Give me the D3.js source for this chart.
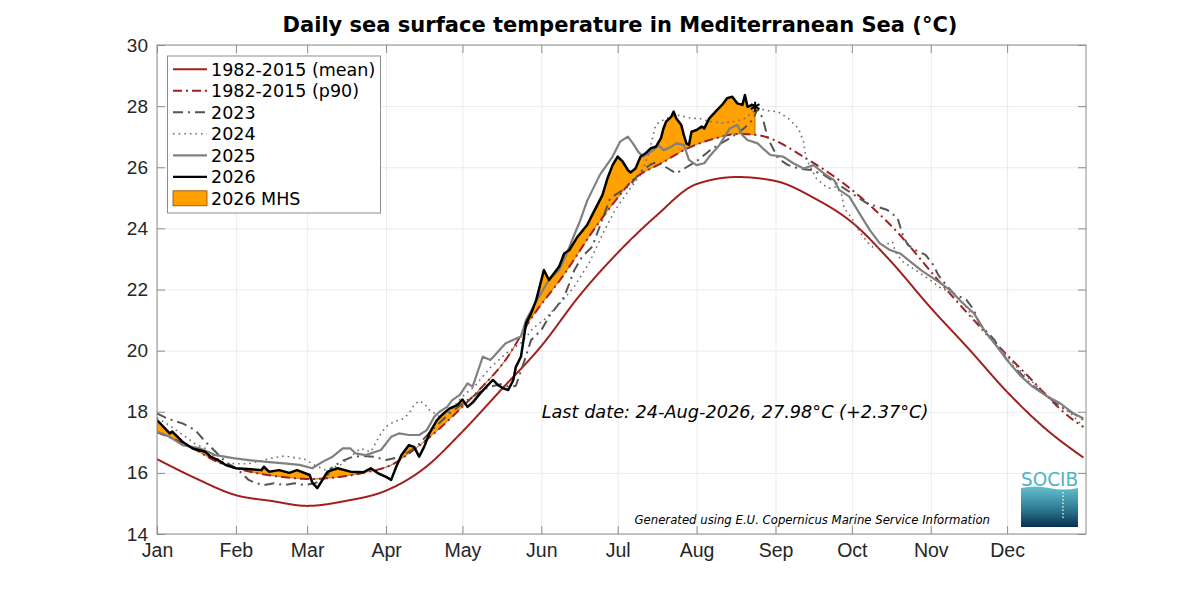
<!DOCTYPE html>
<html>
<head>
<meta charset="utf-8">
<title>Daily sea surface temperature in Mediterranean Sea</title>
<script src="https://cdn.jsdelivr.net/npm/d3@7"></script>
<style>
  body { margin: 0; background: #fff; }
  svg { font-family: "DejaVu Sans", sans-serif; }
  .axis path { display: none; }
  .axis line { stroke: #8c8c8c; }
  .axis text { fill: #262626; }
  .xaxis text { font-size: 19.5px; }
  .yaxis text { font-size: 19px; }
  .grid path { display: none; }
  .grid line { stroke: #ebebeb; }
</style>
</head>
<body>
<script>
// ---- data (day of year, 0 = 1 Jan) ----
var monthDays = [0, 31, 59, 90, 120, 151, 181, 212, 243, 273, 304, 334];
var monthLabels = ["Jan", "Feb", "Mar", "Apr", "May", "Jun", "Jul", "Aug", "Sep", "Oct", "Nov", "Dec"];
var tempTicks = [14, 16, 18, 20, 22, 24, 26, 28, 30];

var meanDays = [0, 15, 31, 45, 59, 74, 90, 105, 120, 135, 151, 166, 181, 196, 212, 228, 243, 258, 273, 288, 304, 319, 334, 349, 364];
var meanSst = [16.45, 15.83, 15.27, 15.08, 14.92, 15.08, 15.42, 16.15, 17.35, 18.7, 20.15, 21.8, 23.2, 24.4, 25.45, 25.68, 25.55, 25.0, 24.2, 22.95, 21.4, 20.05, 18.65, 17.45, 16.5];

var p90Days = [0, 12, 24, 37, 50, 60, 71, 81, 93, 100, 109, 118, 127, 137, 147, 160, 172, 181, 186, 199, 208, 220, 228, 236, 256, 273, 289, 308, 322, 341, 360, 364];
var p90Sst = [17.33, 16.9, 16.35, 16.03, 15.86, 15.8, 15.86, 16.0, 16.3, 16.7, 17.3, 18.0, 18.75, 19.7, 21.05, 22.5, 24.0, 25.0, 25.5, 26.17, 26.6, 26.96, 27.09, 27.05, 26.24, 25.26, 24.04, 22.2, 20.9, 19.27, 17.73, 17.5];

var days2023 = [0, 4, 10, 15, 19, 23, 27, 32, 36, 39, 42, 46, 50, 54, 58, 62, 65, 67, 69, 73, 77, 81, 85, 90, 96, 102, 108, 115, 122, 126, 130, 135, 139, 141, 144, 147, 151, 154, 160, 164, 167, 171, 175, 178, 182, 186, 190, 194, 197, 200, 204, 208, 212, 215, 218, 221, 225, 228, 231, 234, 236, 238, 240, 242, 244, 248, 252, 257, 262, 266, 270, 276, 279, 283, 287, 291, 293, 295, 298, 302, 305, 307, 310, 313, 318, 321, 323, 329, 334, 338, 343, 350, 355, 360, 364];
var sst2023 = [17.95, 17.78, 17.62, 17.4, 17.02, 16.69, 16.36, 16.09, 15.77, 15.66, 15.6, 15.66, 15.6, 15.66, 15.6, 15.66, 15.77, 15.93, 16.2, 16.4, 16.53, 16.55, 16.53, 16.42, 16.53, 16.86, 17.4, 17.95, 18.38, 18.6, 18.8, 18.9, 18.8, 18.85, 19.58, 20.35, 20.67, 21.11, 21.76, 22.64, 23.07, 23.4, 24.3, 24.98, 25.2, 25.42, 25.85, 26.1, 26.18, 26.0, 25.8, 26.0, 26.2, 26.4, 26.6, 26.75, 26.95, 27.1, 27.3, 27.55, 27.9, 27.6, 26.95, 26.62, 26.29, 26.07, 25.96, 25.91, 25.75, 25.53, 25.31, 24.98, 24.82, 24.71, 24.6, 24.33, 23.78, 23.46, 23.29, 23.13, 22.8, 22.47, 22.15, 21.87, 21.66, 21.33, 20.89, 20.35, 19.69, 19.36, 18.93, 18.49, 18.16, 17.95, 17.73];

var days2024 = [0, 5, 10, 15, 19, 23, 27, 31, 36, 41, 46, 50, 54, 58, 62, 66, 70, 72, 76, 80, 84, 88, 90, 93, 97, 99, 101, 103, 105, 107, 109, 111, 115, 120, 125, 131, 137, 143, 148, 152, 156, 160, 164, 170, 175, 180, 185, 190, 193, 196, 200, 205, 210, 213, 217, 222, 227, 231, 236, 240, 244, 248, 252, 254, 255, 257, 259, 262, 264, 267, 269, 270, 273, 276, 280, 282, 286, 289, 290, 293, 297, 301, 304, 308, 310, 316, 323, 329, 334, 339, 346, 352, 359, 364];
var sst2024 = [17.8, 17.55, 17.25, 16.95, 16.8, 16.5, 16.31, 16.3, 16.3, 16.4, 16.5, 16.55, 16.5, 16.45, 16.25, 16.1, 16.2, 16.26, 16.53, 16.8, 16.69, 17.29, 17.51, 17.67, 17.78, 17.95, 18.22, 18.36, 18.27, 18.06, 17.95, 17.84, 18.0, 18.5, 18.85, 19.45, 19.9, 20.25, 20.75, 21.0, 21.35, 21.7, 22.1, 22.9, 23.8, 24.6, 25.2, 25.75, 26.4, 27.4, 27.6, 27.7, 27.6, 27.6, 27.5, 27.45, 27.5, 27.6, 27.93, 27.85, 27.82, 27.6, 27.27, 26.84, 26.29, 25.96, 25.64, 25.42, 25.31, 25.36, 25.09, 24.66, 24.33, 23.89, 23.46, 23.35, 23.46, 23.56, 23.24, 22.91, 22.69, 22.47, 22.3, 22.04, 21.98, 21.66, 20.78, 20.24, 19.8, 19.36, 18.82, 18.38, 17.95, 17.51];

var days2025 = [0, 5, 10, 17, 23, 30, 36, 43, 50, 56, 61, 65, 69, 73, 76, 78, 82, 88, 92, 95, 99, 103, 106, 109, 111, 114, 116, 119, 122, 124, 128, 131, 137, 143, 145, 150, 154, 158, 161, 164, 166, 169, 174, 179, 182, 185, 187, 189, 191, 193, 195, 197, 199, 202, 204, 207, 209, 212, 215, 217, 221, 225, 228, 230, 232, 236, 238, 241, 246, 250, 254, 258, 262, 266, 268, 272, 276, 280, 284, 288, 292, 296, 300, 304, 308, 312, 316, 321, 325, 330, 334, 339, 344, 350, 355, 360, 364];
var sst2025 = [17.35, 17.18, 16.91, 16.8, 16.58, 16.48, 16.42, 16.36, 16.31, 16.26, 16.15, 16.36, 16.53, 16.8, 16.8, 16.64, 16.58, 16.75, 17.18, 17.29, 17.24, 17.24, 17.4, 17.84, 18.0, 18.16, 18.38, 18.55, 18.93, 18.82, 19.8, 19.69, 20.24, 20.46, 21.0, 21.76, 22.31, 22.64, 23.18, 23.8, 24.2, 24.9, 25.75, 26.35, 26.84, 27.0, 26.78, 26.51, 26.35, 26.46, 26.56, 26.73, 26.56, 26.67, 26.78, 26.73, 26.24, 26.07, 26.13, 26.35, 26.73, 27.27, 27.38, 27.05, 26.89, 26.78, 26.62, 26.4, 26.35, 26.13, 25.96, 26.07, 25.8, 25.58, 25.26, 25.04, 24.49, 23.95, 23.51, 23.29, 23.18, 22.91, 22.64, 22.42, 22.2, 21.95, 21.6, 21.22, 20.67, 20.13, 19.69, 19.2, 18.82, 18.49, 18.27, 17.95, 17.78];

var days2026 = [0, 5, 6, 10, 14, 19, 21, 24, 27, 31, 37, 41, 42, 44, 48, 52, 55, 60, 61, 63, 65, 67, 71, 76, 81, 84, 87, 90, 92, 94, 96, 99, 101, 103, 105, 107, 110, 112, 115, 118, 120, 122, 124, 127, 130, 132, 134, 136, 138, 140, 141, 143, 144, 145, 147, 149, 150, 152, 154, 156, 158, 160, 162, 165, 169, 171, 175, 177, 179, 181, 183, 185, 186, 188, 190, 192, 194, 196, 198, 199, 200, 202, 203, 204, 206, 207, 208, 209, 210, 212, 214, 215, 217, 220, 222, 224, 226, 227, 228, 230, 231, 232, 234, 235];
var sst2026 = [17.73, 17.29, 17.35, 17.02, 16.8, 16.69, 16.53, 16.42, 16.26, 16.15, 16.12, 16.09, 16.2, 16.04, 16.09, 16.0, 16.09, 15.93, 15.68, 15.5, 15.77, 16.04, 16.15, 16.04, 16.02, 16.15, 15.98, 15.87, 15.77, 16.2, 16.58, 16.91, 16.85, 16.53, 16.86, 17.29, 17.73, 17.9, 18.11, 18.22, 18.4, 18.16, 18.3, 18.6, 18.87, 19.04, 18.87, 18.77, 18.71, 19.04, 19.47, 19.8, 20.35, 20.89, 21.22, 21.66, 21.98, 22.64, 22.31, 22.53, 22.75, 23.18, 23.29, 23.7, 24.11, 24.44, 25.09, 25.64, 26.07, 26.35, 26.18, 25.91, 25.83, 25.96, 26.35, 26.46, 26.62, 26.67, 26.95, 27.27, 27.49, 27.65, 27.82, 27.6, 27.38, 27.05, 26.78, 26.73, 27.16, 27.22, 27.33, 27.27, 27.6, 27.87, 28.04, 28.26, 28.31, 28.2, 28.09, 28.04, 28.36, 27.98, 28.04, 27.98];

var lastDateText = "Last date: 24-Aug-2026, 27.98°C (+2.37°C)";

// ---- layout ----
var w = 1200, h = 600;
var plotL = 157, plotR = 1086, plotT = 45, plotB = 534;

var svg = d3.select("body").append("svg")
  .attr("width", w).attr("height", h);

var x = d3.scaleLinear().domain([0, 365]).range([plotL, plotR]);
var y = d3.scaleLinear().domain([14, 30]).range([plotB, plotT]);

// monotone cubic (same slopes as d3.curveMonotoneX) so the fill sits on the p90 line
function monotone(xs, ys) {
  var n = xs.length, hs = [], s = [], m = [];
  for (var i = 0; i < n - 1; i++) { hs[i] = xs[i + 1] - xs[i]; s[i] = (ys[i + 1] - ys[i]) / hs[i]; }
  for (var i = 1; i < n - 1; i++) {
    var p = (s[i - 1] * hs[i] + s[i] * hs[i - 1]) / (hs[i - 1] + hs[i]);
    m[i] = (Math.sign(s[i - 1]) + Math.sign(s[i])) * Math.min(Math.abs(s[i - 1]), Math.abs(s[i]), 0.5 * Math.abs(p)) || 0;
  }
  m[0] = (3 * s[0] - m[1]) / 2;
  m[n - 1] = (3 * s[n - 2] - m[n - 2]) / 2;
  return function(t) {
    var i = Math.min(Math.max(d3.bisectRight(xs, t) - 1, 0), n - 2);
    var hh = hs[i], u = (t - xs[i]) / hh, u2 = u * u, u3 = u2 * u;
    return (2 * u3 - 3 * u2 + 1) * ys[i] + (u3 - 2 * u2 + u) * hh * m[i] +
           (-2 * u3 + 3 * u2) * ys[i + 1] + (u3 - u2) * hh * m[i + 1];
  };
}
function linear(xs, ys) {
  return function(t) {
    var i = Math.min(Math.max(d3.bisectRight(xs, t) - 1, 0), xs.length - 2);
    var u = (t - xs[i]) / (xs[i + 1] - xs[i]);
    return ys[i] + u * (ys[i + 1] - ys[i]);
  };
}

var meanF = monotone(meanDays, meanSst);
var p90F = monotone(p90Days, p90Sst);
var f2026 = linear(days2026, sst2026);
var smoothGrid = d3.range(0, 3641).map(function(i) { return i / 10; });

// grid
svg.append("g").attr("class", "grid")
  .attr("transform", "translate(0," + plotB + ")")
  .call(d3.axisBottom(x).tickValues(monthDays).tickSize(-(plotB - plotT)).tickFormat(""));
svg.append("g").attr("class", "grid")
  .attr("transform", "translate(" + plotL + ",0)")
  .call(d3.axisLeft(y).tickValues(tempTicks).tickSize(-(plotR - plotL)).tickFormat(""));

var defs = svg.append("defs");
defs.append("clipPath").attr("id", "plot")
  .append("rect").attr("x", plotL).attr("y", plotT).attr("width", plotR - plotL).attr("height", plotB - plotT);

var plot = svg.append("g").attr("clip-path", "url(#plot)");

// 2026 marine heat spike fill (above p90)
var fillGrid = d3.range(0, days2026[days2026.length - 1] * 10 + 1).map(function(i) { return i / 10; });
plot.append("path")
  .datum(fillGrid)
  .attr("fill", "#ffa100")
  .attr("stroke", "#8a4a00")
  .attr("stroke-width", 0.6)
  .attr("d", d3.area()
    .x(function(d) { return x(d); })
    .y0(function(d) { return y(p90F(d)); })
    .y1(function(d) { return y(Math.max(f2026(d), p90F(d))); }));

var valueLine = d3.line().x(function(d) { return x(d[0]); }).y(function(d) { return y(d[1]); });

function drawSeries(days, vals, color, width, dash) {
  var pts = days.map(function(d, i) { return [d, vals[i]]; });
  plot.append("path").datum(pts)
    .attr("fill", "none")
    .attr("stroke", color)
    .attr("stroke-width", width)
    .attr("stroke-linejoin", "round")
    .attr("stroke-dasharray", dash)
    .attr("d", valueLine);
}

plot.append("path")
  .datum(smoothGrid.map(function(t) { return [t, meanF(t)]; }))
  .attr("fill", "none").attr("stroke", "#a31f1f").attr("stroke-width", 2)
  .attr("d", valueLine);
plot.append("path")
  .datum(smoothGrid.map(function(t) { return [t, p90F(t)]; }))
  .attr("fill", "none").attr("stroke", "#a31f1f").attr("stroke-width", 2)
  .attr("stroke-dasharray", "9,4,2,4")
  .attr("d", valueLine);

drawSeries(days2023, sst2023, "#555555", 2, "10,5,2,5");
drawSeries(days2024, sst2024, "#6e6e6e", 1.6, "1.6,4");
drawSeries(days2025, sst2025, "#808080", 2.2, null);
drawSeries(days2026, sst2026, "#000000", 2.5, null);

// last value marker
var lastI = days2026.length - 1;
svg.append("path")
  .attr("transform", "translate(" + x(days2026[lastI]) + "," + y(sst2026[lastI]) + ")")
  .attr("d", d3.symbol().type(d3.symbolAsterisk || d3.symbolCross).size(70)())
  .attr("fill", "#000").attr("stroke", "#000").attr("stroke-width", 2);

// axes box with inward ticks
svg.append("rect").attr("x", plotL).attr("y", plotT)
  .attr("width", plotR - plotL).attr("height", plotB - plotT)
  .attr("fill", "none").attr("stroke", "#8c8c8c").attr("stroke-width", 1);

svg.append("g").attr("class", "axis xaxis")
  .attr("transform", "translate(0," + plotB + ")")
  .call(d3.axisBottom(x).tickValues(monthDays).tickSize(-8).tickPadding(9)
    .tickFormat(function(d, i) { return monthLabels[i]; }));
svg.append("g").attr("class", "axis")
  .attr("transform", "translate(0," + plotT + ")")
  .call(d3.axisTop(x).tickValues(monthDays).tickSize(-8).tickFormat(""));
svg.append("g").attr("class", "axis yaxis")
  .attr("transform", "translate(" + plotL + ",0)")
  .call(d3.axisLeft(y).tickValues(tempTicks).tickSize(-8).tickPadding(9));
svg.append("g").attr("class", "axis")
  .attr("transform", "translate(" + plotR + ",0)")
  .call(d3.axisRight(y).tickValues(tempTicks).tickSize(-8).tickFormat(""));

// title
svg.append("text")
  .attr("x", 620).attr("y", 32)
  .attr("text-anchor", "middle")
  .attr("font-size", "21px").attr("font-weight", "bold").attr("fill", "#000")
  .text("Daily sea surface temperature in Mediterranean Sea (°C)");

// annotations
svg.append("text")
  .attr("x", 735).attr("y", 418)
  .attr("text-anchor", "middle")
  .attr("font-size", "17.7px").attr("font-style", "italic").attr("fill", "#000")
  .text(lastDateText);
svg.append("text")
  .attr("x", 990).attr("y", 524)
  .attr("text-anchor", "end")
  .attr("font-size", "11.7px").attr("font-style", "italic").attr("fill", "#000")
  .text("Generated using E.U. Copernicus Marine Service Information");

// legend
var legendItems = [
  { label: "1982-2015 (mean)", color: "#a31f1f", width: 2, dash: null },
  { label: "1982-2015 (p90)", color: "#a31f1f", width: 2, dash: "9,4,2,4" },
  { label: "2023", color: "#555555", width: 2, dash: "10,5,2,5" },
  { label: "2024", color: "#6e6e6e", width: 1.6, dash: "1.6,4" },
  { label: "2025", color: "#808080", width: 2.2, dash: null },
  { label: "2026", color: "#000000", width: 2.2, dash: null },
  { label: "2026 MHS", patch: true }
];
var lg = svg.append("g");
lg.append("rect").attr("x", 167.5).attr("y", 56).attr("width", 213).attr("height", 157)
  .attr("fill", "#fff").attr("stroke", "#8c8c8c").attr("stroke-width", 1);
var rows = lg.selectAll("g.item").data(legendItems).enter().append("g")
  .attr("class", "item")
  .attr("transform", function(d, i) { return "translate(0," + (69.3 + i * 21.5) + ")"; });
rows.filter(function(d) { return !d.patch; }).append("line")
  .attr("x1", 173).attr("x2", 207).attr("y1", 0).attr("y2", 0)
  .attr("stroke", function(d) { return d.color; })
  .attr("stroke-width", function(d) { return d.width; })
  .attr("stroke-dasharray", function(d) { return d.dash; });
rows.filter(function(d) { return d.patch; }).append("rect")
  .attr("x", 173).attr("y", -7.5).attr("width", 34).attr("height", 15)
  .attr("fill", "#ffa100").attr("stroke", "#8a4a00").attr("stroke-width", 0.8);
rows.append("text")
  .attr("x", 211).attr("y", 0).attr("dy", "0.36em")
  .attr("font-size", "17.5px").attr("fill", "#000")
  .text(function(d) { return d.label; });

// SOCIB logo
var grad = defs.append("linearGradient")
  .attr("id", "socibGrad").attr("x1", 0).attr("y1", 0).attr("x2", 0).attr("y2", 1);
grad.append("stop").attr("offset", "0%").attr("stop-color", "#63c1cf");
grad.append("stop").attr("offset", "55%").attr("stop-color", "#2f7c93");
grad.append("stop").attr("offset", "100%").attr("stop-color", "#07304f");
var logo = svg.append("g").attr("transform", "translate(1021,468)");
logo.append("text")
  .attr("x", 28.5).attr("y", 18)
  .attr("text-anchor", "middle")
  .attr("font-size", "19px").attr("fill", "#4cb4c6")
  .attr("textLength", 57).attr("lengthAdjust", "spacingAndGlyphs")
  .text("SOCIB");
logo.append("path")
  .attr("d", "M0,20 Q14,17 28,20 T57,20 L57,59 L0,59 Z")
  .attr("fill", "url(#socibGrad)");
logo.append("line")
  .attr("x1", 42).attr("x2", 42).attr("y1", 24).attr("y2", 52)
  .attr("stroke", "#ffffff").attr("stroke-width", 1.2).attr("stroke-dasharray", "1.5,2");
</script>
</body>
</html>
